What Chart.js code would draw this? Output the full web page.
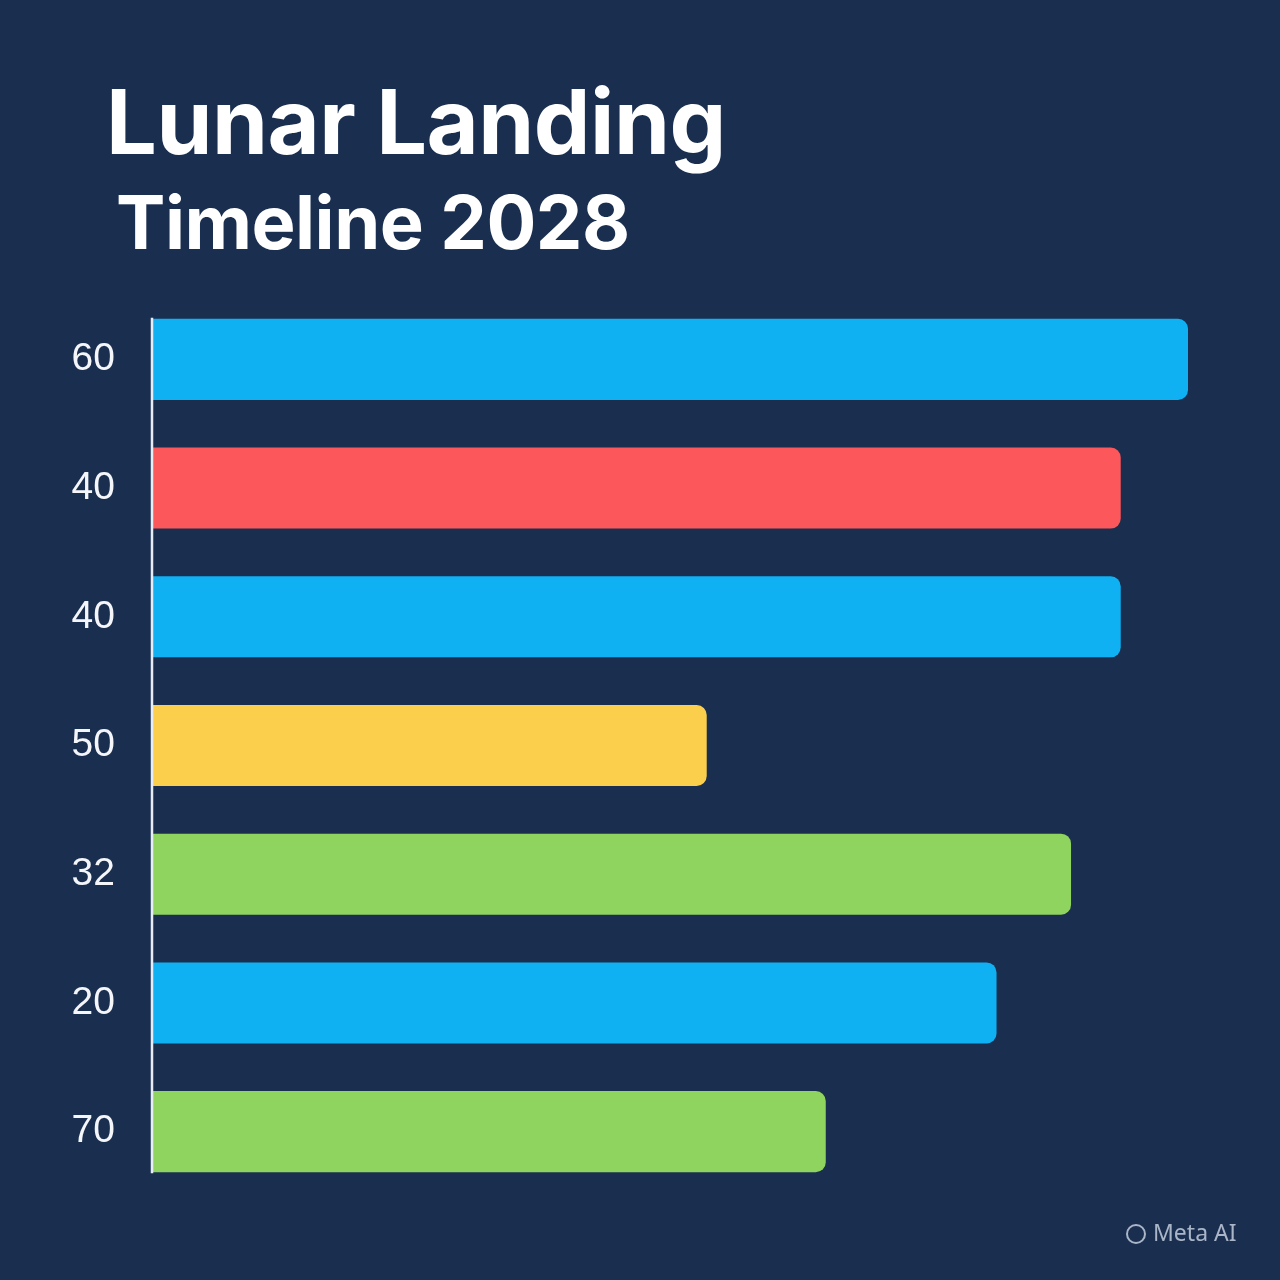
<!DOCTYPE html>
<html>
<head>
<meta charset="utf-8">
<script src="https://cdn.jsdelivr.net/npm/chart.js@4/dist/chart.umd.min.js"></script>
<style>
    html, body {
        margin: 0;
        padding: 0;
        background: #1a2f50;
    }
    #wrap {
        position: relative;
        width: 1280px;
        height: 1280px;
        background: #1a2f50;
        overflow: hidden;
    }
    #chart {
        position: absolute;
        left: 0;
        top: 0;
    }
    .title {
        position: absolute;
        left: 106px;
        top: 77px;
        margin: 0;
        color: #ffffff;
        font-family: Inter, "Noto Sans", sans-serif;
        font-weight: 700;
        font-size: 90px;
        line-height: 1;
        letter-spacing: -0.5px;
        white-space: nowrap;
    }
    .subtitle {
        position: absolute;
        left: 116px;
        top: 185px;
        margin: 0;
        color: #ffffff;
        font-family: Inter, "Noto Sans", sans-serif;
        font-weight: 700;
        font-size: 74px;
        line-height: 1;
        letter-spacing: -0.5px;
        white-space: nowrap;
    }
    .badge {
        position: absolute;
        left: 1126px;
        top: 1218px;
        color: #aab5c7;
        font-family: "Noto Sans", sans-serif;
        font-size: 23px;
        line-height: 28px;
        white-space: nowrap;
    }
    .badge span {
        display: inline-block;
        width: 16px;
        height: 16px;
        border: 2.5px solid #aab5c7;
        border-radius: 50%;
        vertical-align: -3px;
        margin-right: 7px;
    }
</style>
</head>
<body>
<div id="wrap">
    <canvas id="chart" width="1280" height="1280"></canvas>
    <div class="title">Lunar Landing</div>
    <div class="subtitle">Timeline 2028</div>
    <div class="badge"><span></span>Meta AI</div>
</div>

<script>
const categories = ["60", "40", "40", "50", "32", "20", "70"];
const values = [100, 93.5, 93.5, 53.5, 88.7, 81.5, 65];
const barColors = ["#10b1f2", "#fc575b", "#10b1f2", "#fbcf4b", "#8fd45f", "#10b1f2", "#8fd45f"];

// vertical line left of the bars, from the first bar's top to the last bar's bottom
const axisLine = {
    id: "axisLine",
    afterDatasetsDraw(chart) {
        const bars = chart.getDatasetMeta(0).data;
        if (!bars.length) return;
        const first = bars[0];
        const last = bars[bars.length - 1];
        const ctx = chart.ctx;
        const x = chart.chartArea.left - 1;
        ctx.save();
        ctx.strokeStyle = "#e8edf5";
        ctx.lineWidth = 2.5;
        ctx.beginPath();
        ctx.moveTo(x, first.y - first.height / 2 - 1);
        ctx.lineTo(x, last.y + last.height / 2 + 1);
        ctx.stroke();
        ctx.restore();
    },
};

new Chart(document.getElementById("chart").getContext("2d"), {
    type: "bar",
    data: {
        labels: categories,
        datasets: [
            {
                data: values,
                backgroundColor: barColors,
                borderWidth: 0,
                borderRadius: 10,
                borderSkipped: "start",
                barPercentage: 0.63,
                categoryPercentage: 1,
            },
        ],
    },
    options: {
        indexAxis: "y",
        responsive: false,
        animation: false,
        layout: {
            padding: { top: 295, right: 92, bottom: 84, left: 0 },
        },
        plugins: {
            legend: { display: false },
            tooltip: { enabled: false },
        },
        scales: {
            x: {
                display: false,
                min: 0,
                max: 100,
            },
            y: {
                afterFit(scale) {
                    scale.width = 153;
                },
                grid: { display: false },
                border: { display: false },
                ticks: {
                    color: "#f4f6fa",
                    padding: 30,
                    font: { family: "'Liberation Sans', Arial, sans-serif", size: 39 },
                },
            },
        },
    },
    plugins: [axisLine],
});
</script>
</body>
</html>
